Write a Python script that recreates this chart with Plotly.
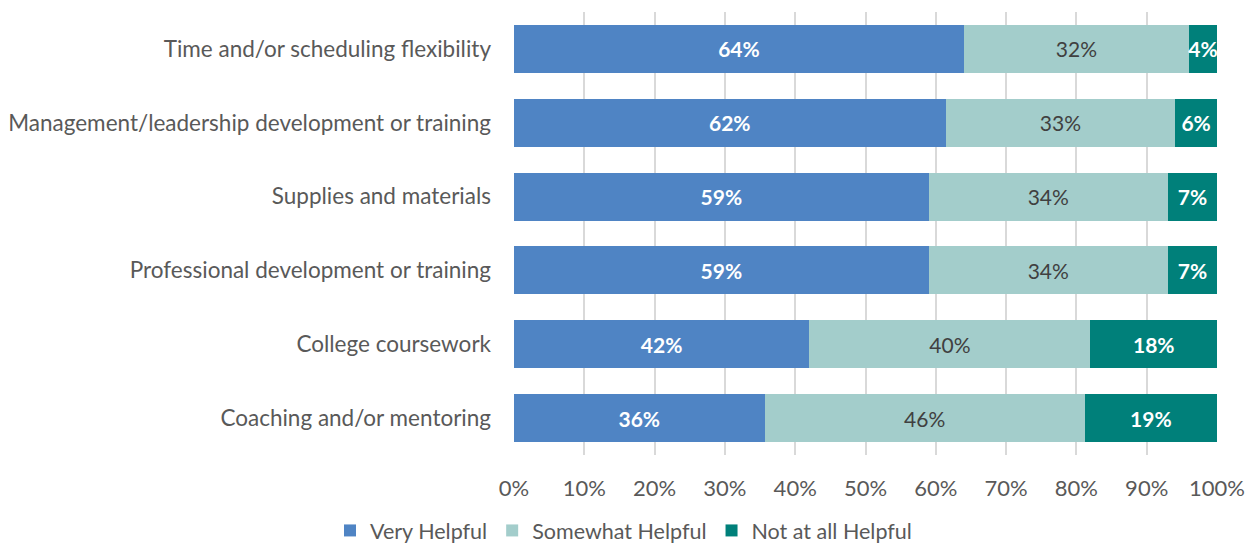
import plotly.graph_objects as go

categories = [
    "Time and/or scheduling flexibility",
    "Management/leadership development or training",
    "Supplies and materials",
    "Professional development or training",
    "College coursework",
    "Coaching and/or mentoring",
]
very_helpful = [64, 62, 59, 59, 42, 36]
somewhat_helpful = [32, 33, 34, 34, 40, 46]
not_helpful = [4, 6, 7, 7, 18, 19]
tick_vals = [0, 10, 20, 30, 40, 50, 60, 70, 80, 90, 100]
tick_text = [f"{v}%" for v in tick_vals]

FONT = "Lato"
fig = go.Figure()
series = [
    ("Very Helpful", very_helpful, "#4F84C4", "white", True),
    ("Somewhat Helpful", somewhat_helpful, "#A3CDCB", "#404040", False),
    ("Not at all Helpful", not_helpful, "#00807A", "white", True),
]
for name, vals, color, tcolor, bold in series:
    fig.add_trace(go.Bar(
        y=categories, x=vals, name=name, orientation="h",
        marker=dict(color=color, line=dict(width=0)),
        text=[f"<b>{v}%</b>" if bold else f"{v}%" for v in vals],
        textposition="inside", insidetextanchor="middle", textangle=0,
        textfont=dict(color=tcolor, size=21, family=FONT),
        constraintext="none", cliponaxis=False,
    ))

fig.update_layout(
    barmode="stack", barnorm="percent", bargap=0.35,
    width=1247, height=548,
    margin=dict(l=514, r=30, t=12, b=93, autoexpand=False),
    plot_bgcolor="white", paper_bgcolor="white",
    font=dict(family=FONT, color="#595959", size=21),
    uniformtext=dict(minsize=21, mode="show"),
    legend=dict(orientation="h", x=0.5, xanchor="center", xref="container",
                y=0.032, yanchor="middle", yref="container",
                font=dict(size=21.5, color="#595959", family=FONT),
                traceorder="normal", itemwidth=30),
    showlegend=True,
)
fig.update_xaxes(range=[0, 100], tickvals=tick_vals, ticktext=tick_text,
                 showgrid=True, gridcolor="#D9D9D9", gridwidth=1.5,
                 zeroline=False, showline=False, ticks="", automargin=False,
                 ticklabelstandoff=18,
                 tickfont=dict(size=22, color="#595959", family=FONT))
fig.update_yaxes(autorange="reversed", ticks="", showline=False, automargin=False,
                 ticklabelstandoff=22,
                 tickfont=dict(size=22.5, color="#595959", family=FONT))

fig.write_html("out.html", config={"displayModeBar": False},
               post_script="document.body.style.margin='0';")
